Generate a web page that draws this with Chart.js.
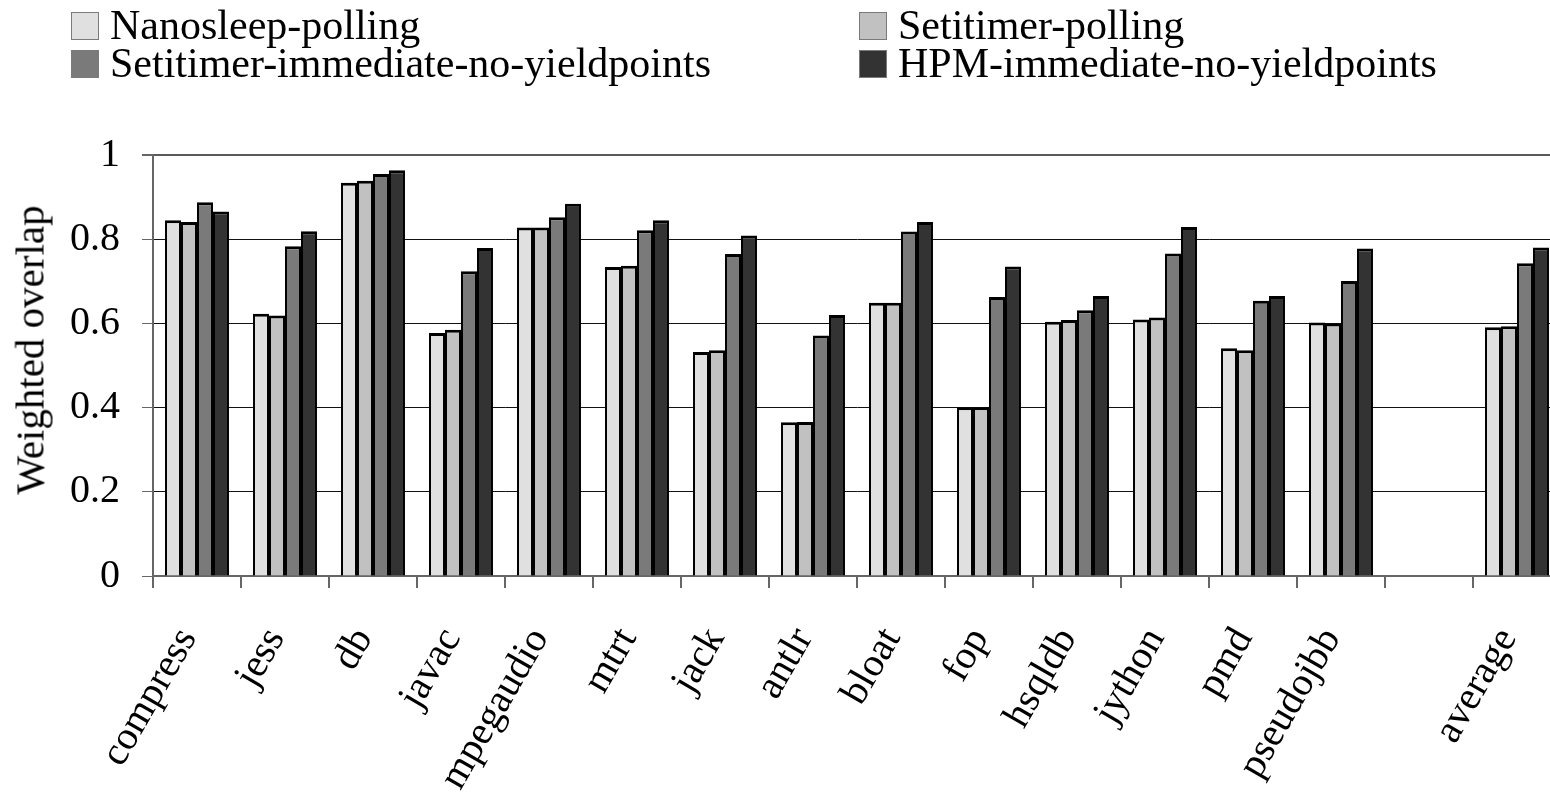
<!DOCTYPE html>
<html>
<head>
<meta charset="utf-8">
<script src="https://cdn.jsdelivr.net/npm/chart.js@4.4.0/dist/chart.umd.min.js"></script>
<style>
    html, body { margin: 0; padding: 0; background: #fff; overflow: hidden; }
    #contenedor { position: relative; width: 1550px; height: 796px; overflow: hidden; }
    #grafica { position: absolute; left: 0; top: 0; }
    .item-leyenda, #titulo-y {
        position: absolute;
        font-family: 'Liberation Serif', 'Times New Roman', serif;
        color: #000;
        white-space: nowrap;
    }
    .item-leyenda { font-size: 42px; line-height: 42px; }
    #titulo-y {
        font-size: 41px;
        line-height: 41px;
        left: 30px;
        top: 350px;
        transform: translate(-50%, -50%) rotate(-90deg);
    }
    .caja {
        position: absolute;
        width: 26px;
        height: 26px;
        border: 1px solid #7a7a7a;
    }
</style>
</head>
<body>
<div id="contenedor">
    <canvas id="grafica" width="1600" height="796"></canvas>
    <div id="titulo-y">Weighted overlap</div>
    <div id="leyenda"></div>
</div>
<script>
// Datos
const categorias = ['compress', 'jess', 'db', 'javac', 'mpegaudio', 'mtrt', 'jack', 'antlr',
    'bloat', 'fop', 'hsqldb', 'jython', 'pmd', 'pseudojbb', '', 'average'];

const series = ['Nanosleep-polling', 'Setitimer-polling',
    'Setitimer-immediate-no-yieldpoints', 'HPM-immediate-no-yieldpoints'];

const nanosleepPolling   = [0.845, 0.623, 0.934, 0.577, 0.828, 0.734, 0.532, 0.365, 0.649, 0.401, 0.604, 0.609, 0.541, 0.602, null, 0.591];
const setitimerPolling   = [0.841, 0.619, 0.939, 0.585, 0.828, 0.737, 0.536, 0.366, 0.649, 0.401, 0.608, 0.614, 0.536, 0.600, null, 0.593];
const setitimerImmediate = [0.888, 0.783, 0.955, 0.724, 0.852, 0.821, 0.765, 0.571, 0.818, 0.663, 0.631, 0.766, 0.654, 0.701, null, 0.743];
const hpmImmediate       = [0.866, 0.819, 0.964, 0.779, 0.884, 0.845, 0.809, 0.620, 0.841, 0.735, 0.665, 0.829, 0.665, 0.778, null, 0.780];

const colores = ['#e0e0e0', '#c0c1c0', '#7a7a7a', '#333333'];
const fuente = "'Liberation Serif', 'Times New Roman', serif";

const valores = [nanosleepPolling, setitimerPolling, setitimerImmediate, hpmImmediate];

const grafica = new Chart(document.getElementById('grafica'), {
    type: 'bar',
    data: {
        labels: categorias,
        datasets: series.map((nombre, i) => ({
            label: nombre,
            data: valores[i],
            backgroundColor: colores[i],
            borderColor: '#000',
            borderWidth: { top: 3, left: 2, right: 2, bottom: 0 },
            categoryPercentage: 0.727,
            barPercentage: 1.0
        }))
    },
    options: {
        responsive: false,
        animation: false,
        layout: { padding: { top: 155, right: 39, left: 0, bottom: 0 } },
        plugins: {
            legend: { display: false },
            tooltip: { enabled: false }
        },
        scales: {
            x: {
                offset: true,
                grid: { drawOnChartArea: false, offset: true, tickLength: 12, color: '#666', lineWidth: 2 },
                border: { color: '#666', width: 2 },
                ticks: {
                    font: { family: fuente, size: 40 },
                    color: '#000',
                    minRotation: 60,
                    maxRotation: 60,
                    autoSkip: false,
                    padding: 32,
                    labelOffset: -9
                },
                afterFit: escala => { escala.height = 220; }
            },
            y: {
                min: 0,
                max: 1,
                ticks: {
                    stepSize: 0.2,
                    font: { family: fuente, size: 40 },
                    color: '#000',
                    padding: 22,
                    callback: v => (v === 0 || v === 1) ? String(v) : v.toFixed(1)
                },
                grid: {
                    color: ctx => ctx.tick && ctx.tick.value === 1 ? '#5a5a5a' : '#111',
                    lineWidth: ctx => ctx.tick && ctx.tick.value === 1 ? 2 : 1,
                    tickLength: 11,
                    tickColor: '#666'
                },
                border: { color: '#666', width: 2 },
                afterFit: escala => { escala.width = 153; }
            }
        }
    }
});

// Leyenda en dos columnas, como en la figura
const posiciones = [[71, 12], [859, 12], [71, 50], [859, 50]];
const leyenda = document.getElementById('leyenda');
grafica.data.datasets.forEach((ds, i) => {
    const [x, y] = posiciones[i];
    const caja = document.createElement('span');
    caja.className = 'caja';
    caja.style.left = x + 'px';
    caja.style.top = y + 'px';
    caja.style.background = ds.backgroundColor;
    leyenda.appendChild(caja);

    const texto = document.createElement('div');
    texto.className = 'item-leyenda';
    texto.style.left = (x + 39) + 'px';
    texto.style.top = (y - 8) + 'px';
    texto.textContent = ds.label;
    leyenda.appendChild(texto);
});
</script>
</body>
</html>
